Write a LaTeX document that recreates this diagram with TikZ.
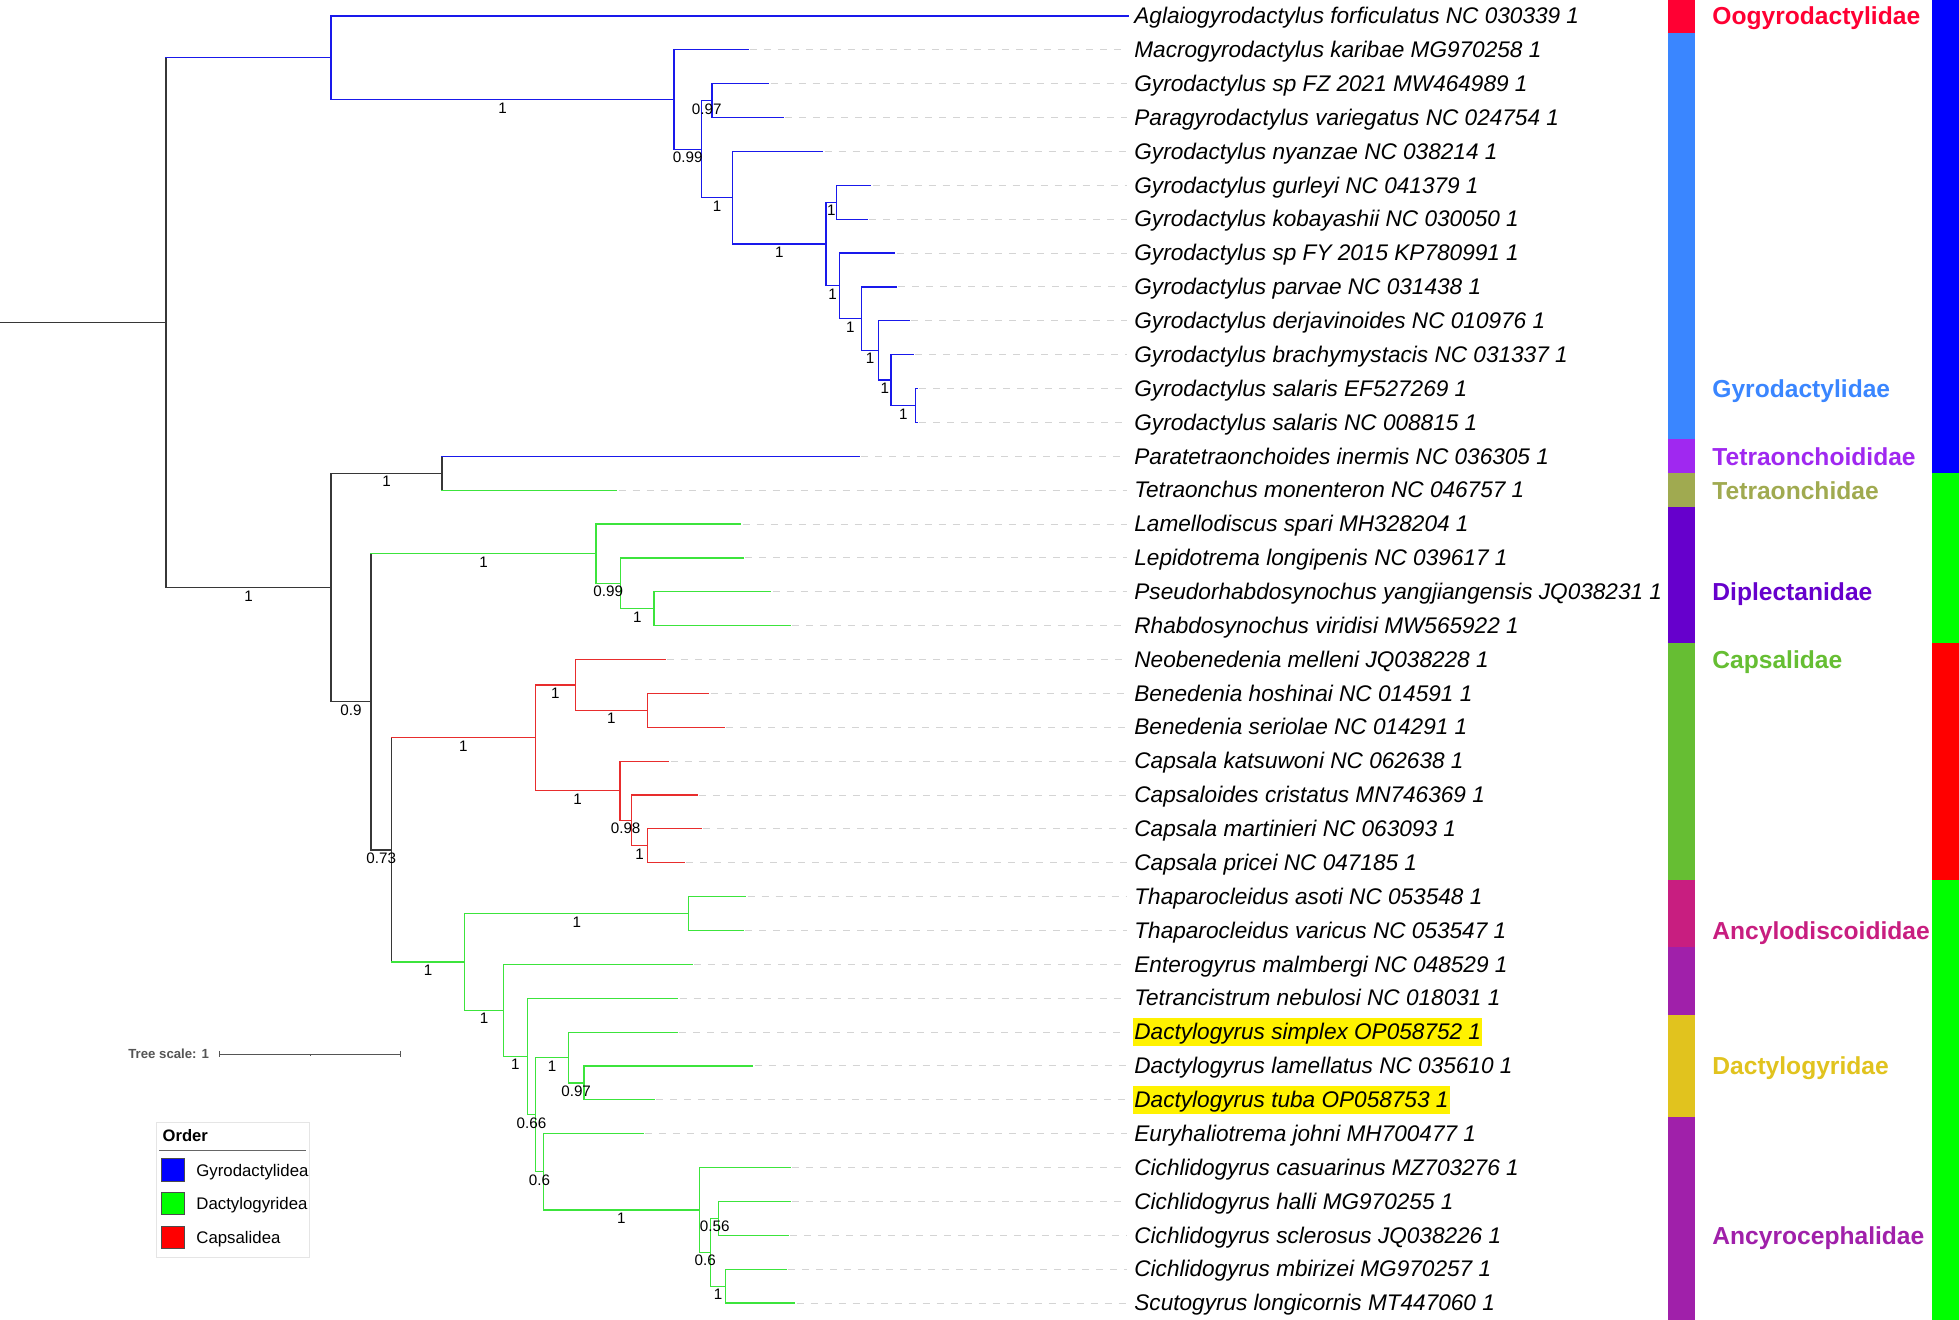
\documentclass[tikz,border=0pt]{standalone}
\usepackage{fontspec}
\setmainfont{Liberation Sans}
\usetikzlibrary{calc}
\definecolor{cblue}{RGB}{25,25,235}
\definecolor{cgreen}{RGB}{60,228,60}
\definecolor{cred}{RGB}{232,45,45}
\definecolor{cblack}{RGB}{55,55,55}
\definecolor{leadgray}{RGB}{212,212,212}
\definecolor{fOogy}{RGB}{255,0,51}
\definecolor{fGyro}{RGB}{58,134,255}
\definecolor{fTetoid}{RGB}{160,40,240}
\definecolor{fTetra}{RGB}{160,170,80}
\definecolor{fDiple}{RGB}{102,0,204}
\definecolor{fCaps}{RGB}{102,190,51}
\definecolor{fAncylo}{RGB}{200,30,128}
\definecolor{fAncyro}{RGB}{160,32,170}
\definecolor{fDacty}{RGB}{225,195,30}
\definecolor{oBlue}{RGB}{0,0,255}
\definecolor{oGreen}{RGB}{0,255,0}
\definecolor{oRed}{RGB}{255,0,0}
\definecolor{scalegray}{RGB}{85,85,85}
\newcommand\hbr[3]{\draw[branch,#1] (#2 |- #3) -- (#3);}
\newcommand\vbr[4]{\draw[branch,#1] (#2 |- #3) -- (#2 |- #4);}
\newcommand\supl[3]{\node[suplab] (s#2) at ($(#1 |- #2)!0.5!(#2)$) {#3};}
\newcommand\fstrip[3]{\fill[#1] (1668,{33.87*(#2-1)-0.935}) rectangle (1695,{33.87*#3-0.935});}
\newcommand\ostrip[3]{\fill[#1] (1932,{33.87*(#2-1)-0.935}) rectangle (1959,{33.87*#3-0.935});}
\newcommand\famlab[4]{\node[fam,text=#2] (#1) at (1712,{16+33.87*(#3-1)+9}) {#4};}
\begin{document}
\begin{tikzpicture}[x=0.5pt,y=-0.5pt,
 branch/.style={line width=0.6pt,line cap=rect},
 leader/.style={draw=leadgray,line width=0.5pt,dash pattern=on 3.5pt off 3.5pt},
 leaf/.style={anchor=west,inner xsep=0.5pt,inner ysep=0.5pt,text height=10.4pt,text depth=2.7pt,font=\fontsize{11.3}{13}\selectfont\itshape},
 hl/.style={fill=yellow},
 nohl/.style={},
 suplab/.style={font=\fontsize{7.6}{9}\selectfont,inner sep=0pt,yshift=-4.15pt},
 fam/.style={anchor=base west,inner sep=0pt,font=\fontsize{12.3}{14}\selectfont\bfseries},
 swatch/.style={draw=black!70,line width=0.4pt,minimum size=11.3pt,inner sep=0pt},
 legtxt/.style={anchor=base west,inner sep=0pt,font=\fontsize{8.4}{10}\selectfont},
]
\fill[white] (0,0) rectangle (1959,1320);
\useasboundingbox (0,0) rectangle (1959,1320);

% ---------- leaves, labels, leaders ----------
\foreach \i/\tx/\st/\txt in {
 1/1128/nohl/Aglaiogyrodactylus forficulatus NC 030339 1,
 2/748/nohl/Macrogyrodactylus karibae MG970258 1,
 3/768.5/nohl/Gyrodactylus sp FZ 2021 MW464989 1,
 4/783/nohl/Paragyrodactylus variegatus NC 024754 1,
 5/822.7/nohl/Gyrodactylus nyanzae NC 038214 1,
 6/870.5/nohl/Gyrodactylus gurleyi NC 041379 1,
 7/867.3/nohl/Gyrodactylus kobayashii NC 030050 1,
 8/894.8/nohl/Gyrodactylus sp FY 2015 KP780991 1,
 9/896/nohl/Gyrodactylus parvae NC 031438 1,
 10/909.4/nohl/Gyrodactylus derjavinoides NC 010976 1,
 11/913/nohl/Gyrodactylus brachymystacis NC 031337 1,
 12/917/nohl/Gyrodactylus salaris EF527269 1,
 13/917/nohl/Gyrodactylus salaris NC 008815 1,
 14/859/nohl/Paratetraonchoides inermis NC 036305 1,
 15/616.5/nohl/Tetraonchus monenteron NC 046757 1,
 16/740.6/nohl/Lamellodiscus spari MH328204 1,
 17/743.3/nohl/Lepidotrema longipenis NC 039617 1,
 18/770.5/nohl/Pseudorhabdosynochus yangjiangensis JQ038231 1,
 19/790/nohl/Rhabdosynochus viridisi MW565922 1,
 20/665/nohl/Neobenedenia melleni JQ038228 1,
 21/708.5/nohl/Benedenia hoshinai NC 014591 1,
 22/724/nohl/Benedenia seriolae NC 014291 1,
 23/668.8/nohl/Capsala katsuwoni NC 062638 1,
 24/697/nohl/Capsaloides cristatus MN746369 1,
 25/701.3/nohl/Capsala martinieri NC 063093 1,
 26/684/nohl/Capsala pricei NC 047185 1,
 27/745.5/nohl/Thaparocleidus asoti NC 053548 1,
 28/743.3/nohl/Thaparocleidus varicus NC 053547 1,
 29/692.4/nohl/Enterogyrus malmbergi NC 048529 1,
 30/677.7/nohl/Tetrancistrum nebulosi NC 018031 1,
 31/677.2/hl/Dactylogyrus simplex OP058752 1,
 32/752.7/nohl/Dactylogyrus lamellatus NC 035610 1,
 33/654/hl/Dactylogyrus tuba OP058753 1,
 34/642.9/nohl/Euryhaliotrema johni MH700477 1,
 35/790.2/nohl/Cichlidogyrus casuarinus MZ703276 1,
 36/790.2/nohl/Cichlidogyrus halli MG970255 1,
 37/788.4/nohl/Cichlidogyrus sclerosus JQ038226 1,
 38/786/nohl/Cichlidogyrus mbirizei MG970257 1,
 39/794.6/nohl/Scutogyrus longicornis MT447060 1}{
 \node[leaf,\st] (l\i) at (1133,{16+33.87*(\i-1)}) {\txt};
 \coordinate (t\i) at (\tx,{16+33.87*(\i-1)});
 \ifnum\i>1 \draw[leader] ([xshift=1pt]t\i) -- ([xshift=-3pt]l\i.west); \fi
}

% ---------- internal nodes ----------
\coordinate (base) at (0,322.66);
\coordinate (r) at (166,322.66);
\coordinate (A) at (331,57.78);
\coordinate (A1) at (674,99.55);
\coordinate (A2) at (701.5,149.23);
\coordinate (A3) at (712,100.68);
\coordinate (A4) at (732.8,197.79);
\coordinate (A5) at (826,244.09);
\coordinate (A6) at (836.7,202.29);
\coordinate (A7) at (839.3,285.90);
\coordinate (A8) at (861.6,318.71);
\coordinate (A9) at (878.8,350.47);
\coordinate (A10) at (891,380.10);
\coordinate (A11) at (915.8,405.51);
\coordinate (B) at (331,587.53);
\coordinate (B1) at (442,473.25);
\coordinate (B2) at (371,701.81);
\coordinate (C) at (596,553.69);
\coordinate (C1) at (620.5,583.33);
\coordinate (C2) at (654,608.73);
\coordinate (D) at (391.5,849.93);
\coordinate (E) at (535.3,737.86);
\coordinate (E1) at (575.4,684.94);
\coordinate (E11) at (647.3,710.34);
\coordinate (E2) at (620,790.78);
\coordinate (E21) at (631.3,820.42);
\coordinate (E22) at (647.8,845.82);
\coordinate (F) at (464.7,961.99);
\coordinate (F1) at (688.8,913.56);
\coordinate (F2) at (503.6,1010.41);
\coordinate (F3) at (527.2,1056.45);
\coordinate (F4) at (535.7,1114.67);
\coordinate (G) at (568.3,1057.51);
\coordinate (G1) at (584,1082.91);
\coordinate (H) at (543.3,1171.82);
\coordinate (H1) at (699.6,1209.92);
\coordinate (H2) at (710.7,1252.26);
\coordinate (H3) at (718.8,1218.39);
\coordinate (H4) at (725.4,1286.13);

% ---------- branches ----------
\draw[branch,cblack] (base) -- (r);
\vbr{cblack}{r}{A}{B}
% Gyrodactylidea clade
\hbr{cblue}{r}{A}
\vbr{cblue}{A}{t1}{A1}
\hbr{cblue}{A}{t1} \hbr{cblue}{A}{A1}
\vbr{cblue}{A1}{t2}{A2}
\hbr{cblue}{A1}{t2} \hbr{cblue}{A1}{A2}
\vbr{cblue}{A2}{A3}{A4}
\hbr{cblue}{A2}{A3} \hbr{cblue}{A2}{A4}
\vbr{cblue}{A3}{t3}{t4}
\hbr{cblue}{A3}{t3} \hbr{cblue}{A3}{t4}
\vbr{cblue}{A4}{t5}{A5}
\hbr{cblue}{A4}{t5} \hbr{cblue}{A4}{A5}
\vbr{cblue}{A5}{A6}{A7}
\hbr{cblue}{A5}{A6} \hbr{cblue}{A5}{A7}
\vbr{cblue}{A6}{t6}{t7}
\hbr{cblue}{A6}{t6} \hbr{cblue}{A6}{t7}
\vbr{cblue}{A7}{t8}{A8}
\hbr{cblue}{A7}{t8} \hbr{cblue}{A7}{A8}
\vbr{cblue}{A8}{t9}{A9}
\hbr{cblue}{A8}{t9} \hbr{cblue}{A8}{A9}
\vbr{cblue}{A9}{t10}{A10}
\hbr{cblue}{A9}{t10} \hbr{cblue}{A9}{A10}
\vbr{cblue}{A10}{t11}{A11}
\hbr{cblue}{A10}{t11} \hbr{cblue}{A10}{A11}
\vbr{cblue}{A11}{t12}{t13}
\hbr{cblue}{A11}{t12} \hbr{cblue}{A11}{t13}
% lower part
\hbr{cblack}{r}{B}
\vbr{cblack}{B}{B1}{B2}
\hbr{cblack}{B}{B1} \hbr{cblack}{B}{B2}
\vbr{cblack}{B1}{t14}{t15}
\hbr{cblue}{B1}{t14} \hbr{cgreen}{B1}{t15}
\vbr{cblack}{B2}{C}{D}
\hbr{cgreen}{B2}{C} \hbr{cblack}{B2}{D}
\vbr{cgreen}{C}{t16}{C1}
\hbr{cgreen}{C}{t16} \hbr{cgreen}{C}{C1}
\vbr{cgreen}{C1}{t17}{C2}
\hbr{cgreen}{C1}{t17} \hbr{cgreen}{C1}{C2}
\vbr{cgreen}{C2}{t18}{t19}
\hbr{cgreen}{C2}{t18} \hbr{cgreen}{C2}{t19}
\vbr{cblack}{D}{E}{F}
\hbr{cred}{D}{E} \hbr{cgreen}{D}{F}
% Capsalidea
\vbr{cred}{E}{E1}{E2}
\hbr{cred}{E}{E1} \hbr{cred}{E}{E2}
\vbr{cred}{E1}{t20}{E11}
\hbr{cred}{E1}{t20} \hbr{cred}{E1}{E11}
\vbr{cred}{E11}{t21}{t22}
\hbr{cred}{E11}{t21} \hbr{cred}{E11}{t22}
\vbr{cred}{E2}{t23}{E21}
\hbr{cred}{E2}{t23} \hbr{cred}{E2}{E21}
\vbr{cred}{E21}{t24}{E22}
\hbr{cred}{E21}{t24} \hbr{cred}{E21}{E22}
\vbr{cred}{E22}{t25}{t26}
\hbr{cred}{E22}{t25} \hbr{cred}{E22}{t26}
% Dactylogyridea lower clade
\vbr{cgreen}{F}{F1}{F2}
\hbr{cgreen}{F}{F1} \hbr{cgreen}{F}{F2}
\vbr{cgreen}{F1}{t27}{t28}
\hbr{cgreen}{F1}{t27} \hbr{cgreen}{F1}{t28}
\vbr{cgreen}{F2}{t29}{F3}
\hbr{cgreen}{F2}{t29} \hbr{cgreen}{F2}{F3}
\vbr{cgreen}{F3}{t30}{F4}
\hbr{cgreen}{F3}{t30} \hbr{cgreen}{F3}{F4}
\vbr{cgreen}{F4}{G}{H}
\hbr{cgreen}{F4}{G} \hbr{cgreen}{F4}{H}
\vbr{cgreen}{G}{t31}{G1}
\hbr{cgreen}{G}{t31} \hbr{cgreen}{G}{G1}
\vbr{cgreen}{G1}{t32}{t33}
\hbr{cgreen}{G1}{t32} \hbr{cgreen}{G1}{t33}
\vbr{cgreen}{H}{t34}{H1}
\hbr{cgreen}{H}{t34} \hbr{cgreen}{H}{H1}
\vbr{cgreen}{H1}{t35}{H2}
\hbr{cgreen}{H1}{t35} \hbr{cgreen}{H1}{H2}
\vbr{cgreen}{H2}{H3}{H4}
\hbr{cgreen}{H2}{H3} \hbr{cgreen}{H2}{H4}
\vbr{cgreen}{H3}{t36}{t37}
\hbr{cgreen}{H3}{t36} \hbr{cgreen}{H3}{t37}
\vbr{cgreen}{H4}{t38}{t39}
\hbr{cgreen}{H4}{t38} \hbr{cgreen}{H4}{t39}

% ---------- support values ----------
\supl{A}{A1}{1} \supl{A1}{A2}{0.99} \supl{A2}{A3}{0.97} \supl{A2}{A4}{1}
\supl{A4}{A5}{1} \supl{A5}{A6}{1} \supl{A5}{A7}{1} \supl{A7}{A8}{1}
\supl{A8}{A9}{1} \supl{A9}{A10}{1} \supl{A10}{A11}{1}
\supl{r}{B}{1} \supl{B}{B1}{1} \supl{B}{B2}{0.9}
\supl{B2}{C}{1} \supl{C}{C1}{0.99} \supl{C1}{C2}{1}
\supl{B2}{D}{0.73}
\supl{D}{E}{1} \supl{E}{E1}{1} \supl{E1}{E11}{1} \supl{E}{E2}{1} \supl{E2}{E21}{0.98} \supl{E21}{E22}{1}
\supl{D}{F}{1} \supl{F}{F1}{1} \supl{F}{F2}{1} \supl{F2}{F3}{1} \supl{F3}{F4}{0.66}
\supl{F4}{G}{1} \supl{G}{G1}{0.97} \supl{F4}{H}{0.6} \supl{H}{H1}{1}
\supl{H1}{H2}{0.6} \supl{H2}{H3}{0.56} \supl{H2}{H4}{1}

% ---------- family strip ----------
\fstrip{fOogy}{1}{1}
\fstrip{fGyro}{2}{13}
\fstrip{fTetoid}{14}{14}
\fstrip{fTetra}{15}{15}
\fstrip{fDiple}{16}{19}
\fstrip{fCaps}{20}{26}
\fstrip{fAncylo}{27}{28}
\fstrip{fAncyro}{29}{30}
\fstrip{fDacty}{31}{33}
\fstrip{fAncyro}{34}{39}
\famlab{fl1}{fOogy}{1}{Oogyrodactylidae}
\famlab{fl2}{fGyro}{12}{Gyrodactylidae}
\famlab{fl3}{fTetoid}{14}{Tetraonchoididae}
\famlab{fl4}{fTetra}{15}{Tetraonchidae}
\famlab{fl5}{fDiple}{18}{Diplectanidae}
\famlab{fl6}{fCaps}{20}{Capsalidae}
\famlab{fl7}{fAncylo}{28}{Ancylodiscoididae}
\famlab{fl8}{fDacty}{32}{Dactylogyridae}
\famlab{fl9}{fAncyro}{37}{Ancyrocephalidae}

% ---------- order strip ----------
\ostrip{oBlue}{1}{14}
\ostrip{oGreen}{15}{19}
\ostrip{oRed}{20}{26}
\ostrip{oGreen}{27}{39}

% ---------- tree scale ----------
\node[anchor=base west,inner sep=0pt,text=scalegray,font=\fontsize{6.6}{8}\selectfont\bfseries] (tsc) at (128,1058.8) {Tree scale: 1};
\coordinate (sb1) at (219.3,1054);
\coordinate (sbm) at (310,1054);
\coordinate (sb2) at (400.7,1054);
\draw[scalegray,line width=0.5pt] (sb1) -- (sb2);
\draw[scalegray,line width=0.5pt] ([yshift=1.6pt]sb1) -- ([yshift=-1.6pt]sb1);
\draw[scalegray,line width=0.5pt] ([yshift=1.6pt]sb2) -- ([yshift=-1.6pt]sb2);
\draw[scalegray,line width=0.5pt] (sbm) -- ([yshift=-1pt]sbm);

% ---------- legend ----------
\draw[draw=black!10,line width=0.4pt,fill=white] (156.7,1122.7) rectangle (309.3,1257.3);
\node[anchor=base west,inner sep=0pt,font=\fontsize{8.3}{10}\selectfont\bfseries] (legT) at (162.3,1141.8) {Order};
\draw[black!60,line width=0.5pt] (159.3,1150.3) -- (306,1150.3);
\node[swatch,fill=oBlue] (sw1) at (173,1169.85) {};
\node[swatch,fill=oGreen] (sw2) at (173,1203.5) {};
\node[swatch,fill=oRed] (sw3) at (173,1237.35) {};
\node[legtxt] (lg1) at (196,1176.1) {Gyrodactylidea};
\node[legtxt] (lg2) at (196,1209.4) {Dactylogyridea};
\node[legtxt] (lg3) at (196,1243.4) {Capsalidea};
\end{tikzpicture}
\end{document}
